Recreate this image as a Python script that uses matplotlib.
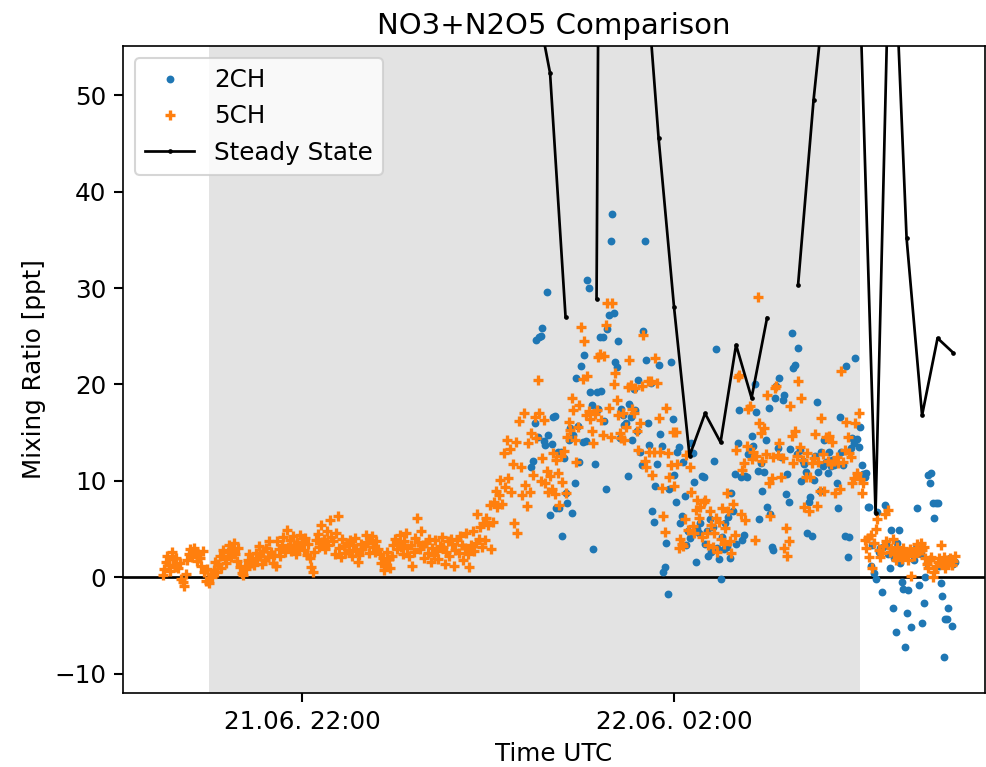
import numpy as np
import matplotlib
matplotlib.use("Agg")
import matplotlib.pyplot as plt
import matplotlib.dates as mdates
from datetime import datetime, timedelta

# reference time and data (minutes relative to 21.06. 22:00 UTC)
base_time = datetime(2021, 6, 21, 22, 0)

ch5_start_min = -90
ch5_values = [
    0.2, 0.9, 1.6, 2.2, 1.3, 0.7, 2.6, 1.9, 1.1, 2.0,
    1.0, 1.5, -0.2, -0.5, -0.9, 0.3, 1.8, 2.4, 2.9, 2.1,
    3.0, 2.6, 1.7, 2.4, 2.0, 1.2, 2.7, 0.5, -0.4, 0.9,
    -0.6, 0.3, 0.0, 0.8, 1.6, 0.6, 1.4, 2.2, 1.0, 2.8,
    1.9, 1.5, 2.6, 3.3, 2.1, 2.9, 3.6, 2.4, 1.7, 3.0,
    1.1, 0.4, 0.2, 1.2, 0.9, 1.8, 2.4, 1.5, 2.0, 1.3,
    2.5, 1.9, 3.2, 2.2, 1.4, 2.7, 1.8, 3.0, 2.1, 3.8,
    2.6, 1.5, 2.3, 1.2, 3.8, 2.9, 2.2, 3.4, 4.2, 2.6,
    4.9, 3.1, 3.9, 2.7, 4.3, 3.4, 2.4, 3.7, 3.0, 4.4,
    3.6, 2.8, 4.1, 2.3, 3.5, 2.0, 1.1, 0.5, 2.6, 3.9,
    4.5, 3.1, 5.4, 3.7, 4.0, 2.9, 4.8, 3.3, 5.9, 4.2,
    3.8, 2.4, 4.6, 6.4, 3.0, 2.1, 4.0, 3.2, 2.5, 3.6,
    2.8, 3.9, 2.2, 3.3, 4.1, 2.7, 1.6, 2.3, 3.5, 2.9,
    3.2, 4.4, 3.7, 2.5, 3.9, 4.3, 3.1, 2.6, 3.8, 2.9,
    2.4, 1.5, 2.0, 0.8, 1.3, 2.6, 1.9, 1.0, 2.2, 3.3,
    4.0, 2.9, 3.5, 4.4, 3.1, 2.4, 3.8, 4.6, 3.0, 2.2,
    3.4, 1.2, 2.6, 4.1, 6.1, 3.7, 2.9, 4.8, 3.3, 2.0,
    3.6, 2.5, 4.0, 1.6, 3.0, 2.3, 3.9, 2.7, 1.9, 3.2,
    4.2, 3.1, 1.4, 2.6, 3.8, 2.2, 4.0, 3.5, 1.2, 2.8,
    3.9, 2.5, 4.3, 3.3, 1.8, 3.0, 4.6, 2.4, 1.1, 3.4,
    4.8, 2.7, 3.6, 6.6, 4.0, 5.2, 3.1, 5.6, 3.9, 6.1,
    5.4, 7.5, 2.9, 5.7, 7.8, 9.0, 7.3, 8.5, 10.1, 7.6,
    12.9, 9.4, 14.2, 10.3, 13.3, 8.8, 11.8, 5.6, 14.0, 4.6,
    16.2, 11.4, 8.5, 17.0, 9.6, 7.4, 13.9, 8.8, 15.0, 10.6,
    16.6, 14.4, 20.5, 17.0, 10.0, 12.4, 16.3, 9.8, 11.0, 8.8,
    10.5, 9.2, 12.9, 8.6, 12.2, 10.8, 7.5, 12.6, 9.9, 13.1,
    8.7, 14.6, 16.1, 15.3, 18.6, 17.3, 14.2, 12.0, 15.6, 17.9,
    26.0, 20.6, 24.5, 16.8, 20.9, 17.2, 16.4, 15.2, 13.9, 16.9,
    17.4, 22.8, 23.2, 16.3, 14.8, 22.9, 26.2, 28.4, 17.6, 14.6,
    28.4, 20.0, 21.2, 18.4, 16.8, 15.0, 14.4, 17.0, 14.2, 15.6,
    19.7, 22.5, 19.9, 17.5, 17.0, 19.6, 15.2, 13.2, 16.0, 19.8,
    25.1, 12.1, 11.4, 20.4, 13.0, 20.4, 10.6, 13.0, 22.7, 20.1,
    16.5, 13.0, 9.3, 6.4, 4.7, 17.6, 12.9, 10.4, 11.6, 15.1,
    9.5, 15.1, 11.8, 3.0, 4.0, 3.5, 3.2, 6.0, 12.7, 4.9,
    11.4, 8.8, 5.3, 4.6, 7.0, 8.0, 6.1, 7.3, 4.2, 7.8,
    8.0, 4.6, 3.4, 6.9, 5.4, 3.1, 4.6, 6.2, 2.6, 5.7,
    4.0, 7.2, 3.5, 5.1, 8.7, 6.9, 3.8, 2.5, 7.6, 4.4,
    13.2, 20.8, 21.0, 6.6, 11.1, 11.9, 5.9, 13.6, 17.5, 17.8,
    12.3, 13.0, 3.9, 12.6, 29.1, 16.0, 15.0, 12.1, 15.5, 12.8,
    18.9, 9.8, 6.4, 10.3, 12.5, 19.6, 19.8, 12.7, 13.9, 10.4,
    12.4, 3.0, 5.1, 2.2, 3.8, 17.8, 14.7, 11.9, 15.2, 12.6,
    20.4, 13.5, 18.6, 12.2, 7.3, 10.4, 12.9, 6.9, 10.4, 11.9,
    12.4, 14.9, 7.4, 12.0, 9.0, 16.5, 12.8, 9.0, 14.5, 12.1,
    14.7, 11.8, 14.0, 12.1, 8.7, 12.5, 11.9, 9.2, 21.4, 12.0,
    13.2, 16.1, 14.5, 12.9, 12.5, 9.8, 10.3, 16.0, 10.8, 17.0,
    10.2, 8.7, 9.8, 3.9, 3.0, 4.1, 2.1, 4.4, 1.0, 3.6,
    5.0, 6.0, 2.8, 2.1, 2.5, 3.2, 6.6, 3.8, 7.0, 2.6,
    3.0, 4.0, 2.4, 1.8, 3.1, 2.2, 2.7, 1.9, 3.0, 2.4,
    2.6, 1.8, 2.9, 0.1, 2.5, 2.2, 3.0, 3.5, 2.7, 3.6,
    2.8, 3.1, 2.0, 1.4, 1.0, 1.8, 2.1, 0.0, 0.5, 1.2,
    1.6, 2.0, 3.3, 1.4, 2.1, 1.0, 1.8, 1.5, 2.0, 1.3,
    1.7, 2.2,
]

ch2_start_min = 148
ch2_values = [
    11.4, 12.1,
    16.0, 24.6, 14.5, 24.9, 25.0, 25.9, 14.1, 13.7, 29.6, 14.8,
    6.5, 13.8, 16.6, 16.7, 7.2, 13.0, 7.2, 13.0, 4.3, 12.4,
    8.7, 7.7, 14.2, 15.5, 6.7, 14.8, 9.8, 20.7, 15.7, 12.0,
    21.9, 14.0, 23.1, 14.1, 30.8, 30.0, 19.2, 17.9, 2.9, 11.8,
    19.2, 17.5, 24.9, 19.3, 24.9, 16.2, 9.2, 25.7, 27.2, 34.9,
    37.7, 27.4, 22.3, 21.8, 24.5, 14.4, 17.5, 16.8, 15.8, 16.0,
    10.5, 18.0, 16.6, 14.2, 19.5, 17.3, 15.2, 20.5, 13.0, 11.6,
    25.5, 34.9, 22.5, 16.0, 13.7, 20.1, 6.9, 5.7, 9.5, 11.8,
    22.0, 14.9, 13.6, 0.5, 1.1, 3.6, -1.7, 9.2, 22.3, 16.4,
    10.6, 7.8, 13.0, 13.5, 5.6, 6.4, 12.0, 8.4, 3.3, 4.8,
    4.1, 13.9, 12.9, 9.9, 1.6, 5.0, 4.6, 5.6, 10.5, 10.4,
    3.5, 4.8, 2.2, 6.0, 2.6, 5.2, 12.1, 23.7, 3.0, 1.9,
    -0.2, 4.2, 2.9, 5.6, 3.1, 6.3, 2.0, 8.7, 6.9, 10.7,
    3.5, 13.9, 17.3, 10.4, 3.9, 4.4, 10.5, 10.4, 12.8, 13.2,
    14.7, 13.6, 20.0, 17.1, 11.0, 6.0, 11.9, 8.9, 10.9, 14.2,
    7.3, 17.6, 6.6, 3.1, 2.8, 18.6, 19.8, 13.4, 20.7, 12.5,
    18.4, 18.9, 8.6, 10.7, 7.8, 13.3, 25.3, 21.7, 22.0, 12.8,
    23.8, 13.2, 10.0, 12.1, 11.7, 10.9, 4.6, 7.8, 8.3, 4.3,
    10.1, 12.6, 18.2, 10.9, 8.9, 13.0, 11.5, 14.2, 12.0, 10.8,
    13.0, 11.5, 12.2, 11.6, 11.9, 9.8, 7.2, 16.6, 13.0, 11.6,
    4.3, 21.9, 2.1, 4.2, 13.4, 14.4, 13.9, 22.7, 14.3, 13.5,
    15.6, 11.6, 10.7, 10.4, 10.8, 7.3, 7.3, 1.2, 3.4, 0.4,
    -0.2, 6.8, 2.6, 3.0, -1.5, 3.1, 7.5, 3.5, 2.4, 1.0,
    4.9, -3.2, 2.0, -5.7, 3.6, 4.9, 1.5, -0.5, -1.2, -7.2,
    -3.7, -1.3, 2.5, -5.2, 2.3, 1.8, 3.0, 7.2, -0.8, 2.4,
    -4.7, -2.7, 0.0, 1.5, 10.6, 9.8, 10.8, 7.7, 6.1, 7.7,
    7.7, 1.2, -0.6, -1.9, -8.3, -4.3, -4.3, -3.2, 2.0, -5.1,
    1.4, 1.6,
]

ss_minutes = [150, 160, 170, 180, 190, 200, 210, 220, 230, 240, 250, 260, 270,
              280, 290, 300, 310, 320, 330, 340, 350, 360, 370, 380, 390, 400,
              410, 420]
ss_values = [60.7, 52.3, 27.0, np.nan, 28.9, 300.0, 150.0, 66.7, 45.6, 28.0,
             12.6, 17.0, 14.0, 24.1, 18.6, 26.9, np.nan, 30.3, 49.5, 65.0,
             150.0, 60.0, 6.7, 74.0, 35.2, 16.8, 24.8, 23.3]

night_start = datetime(2021, 6, 21, 21, 0)
night_end = datetime(2021, 6, 22, 4, 0)
x_min = datetime(2021, 6, 21, 20, 4, 30)
x_max = datetime(2021, 6, 22, 5, 20, 36)

t5 = [base_time + timedelta(minutes=ch5_start_min + i) for i in range(len(ch5_values))]
t2 = [base_time + timedelta(minutes=ch2_start_min + i) for i in range(len(ch2_values))]
tss = [base_time + timedelta(minutes=m) for m in ss_minutes]

plt.rcParams['font.size'] = 11.8

W, H, DPI = 986, 767, 150
fig = plt.figure(figsize=(W / DPI, H / DPI), dpi=DPI)
ax = fig.add_axes([123 / W, (H - 693) / H, 862 / W, 647 / H])

ax.axvspan(night_start, night_end, color='#e3e3e3', lw=0, zorder=0)
ax.axhline(0, color='black', lw=1.3, zorder=1.5)

ax.plot(t2, ch2_values, '.', color='C0', ms=5.5, label='2CH')
ax.plot(t5, ch5_values, '+', color='C1', ms=5, mew=1.6, label='5CH')
ax.plot(tss, ss_values, '.-', color='black', ms=2.5, lw=1.3, label='Steady State')

ax.set_xlim(x_min, x_max)
ax.set_ylim(-12, 55.1)
ax.set_yticks([-10, 0, 10, 20, 30, 40, 50])
ax.xaxis.set_major_locator(mdates.HourLocator(byhour=[2, 6, 10, 14, 18, 22]))
ax.xaxis.set_major_formatter(mdates.DateFormatter('%d.%m. %H:%M'))
ax.tick_params(length=4.5, width=1.0)

ax.set_title('NO3+N2O5 Comparison', fontsize=14)
ax.set_xlabel('Time UTC')
ax.set_ylabel('Mixing Ratio [ppt]')
ax.legend(loc='upper left')

fig.savefig('out.png', dpi=DPI)
